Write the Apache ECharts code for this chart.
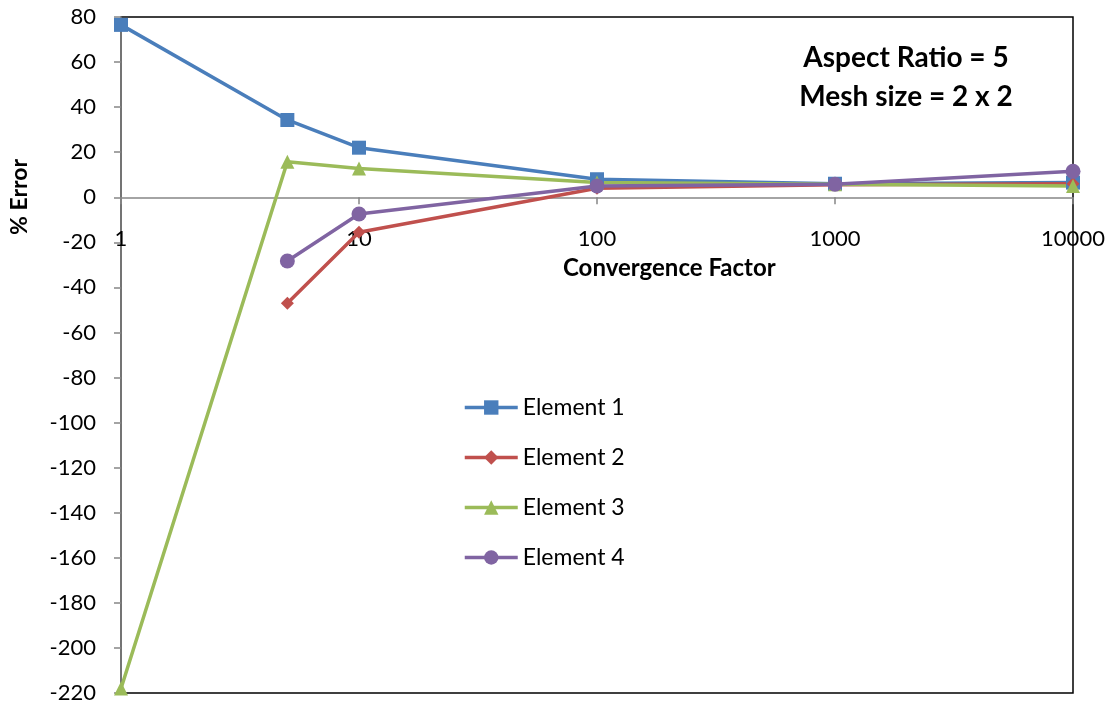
<!DOCTYPE html>
<html>
<head>
<meta charset="utf-8">
<script src="https://cdn.jsdelivr.net/npm/echarts@6/dist/echarts.min.js"></script>
<style>
  html, body { margin: 0; padding: 0; background: #fff; }
  #chart { width: 1113px; height: 703px; }
</style>
</head>
<body>
<div id="chart"></div>
<script>
// convergence factor values (x, log scale)
const factors = [1, 5, 10, 100, 1000, 10000];
// % error per element, null = no point
const element1 = [76.5, 34.3, 22, 8, 6, 6.5];
const element2 = [null, -47, -15.5, 4, 5.5, 6];
const element3 = [-218, 15.8, 12.8, 6.5, 5.8, 5];
const element4 = [null, -28.3, -7.4, 5, 5.8, 11.5];
const seriesNames = ["Element 1", "Element 2", "Element 3", "Element 4"];
const yTicks = { min: -220, max: 80, step: 20 };

const font = "Lato, 'Open Sans', sans-serif";

function pairs(vals) {
  const out = [];
  vals.forEach(function (v, i) {
    if (v !== null) out.push([factors[i], v]);
  });
  return out;
}

const colors = ["#4a7ebb", "#c0504d", "#9bbb59", "#8064a2"];
const symbols = ["rect", "diamond", "triangle", "circle"];
const sizes = [14, 13, 14, 15];
const allData = [element1, element2, element3, element4];

const chart = echarts.init(document.getElementById("chart"));
const option = {
  animation: false,
  textStyle: { fontFamily: font },
  grid: {
    left: 121,
    right: 40,
    top: 17,
    bottom: 10,
    show: true,
    borderColor: "#000",
    borderWidth: 1.5,
    containLabel: false,
    outerBoundsMode: "none"
  },
  legend: {
    orient: "vertical",
    left: 458,
    top: 391,
    itemWidth: 53,
    itemHeight: 18,
    itemGap: 27,
    data: seriesNames,
    lineStyle: { width: 3.5 },
    textStyle: { fontSize: 23, color: "#000", fontFamily: font }
  },
  xAxis: {
    type: "log",
    logBase: 10,
    min: 1,
    max: 10000,
    axisLine: { onZero: true, lineStyle: { color: "#868686", width: 1.5 } },
    axisTick: { show: true, length: 7, lineStyle: { color: "#868686", width: 1.5 } },
    minorTick: { show: false },
    splitLine: { show: false },
    axisLabel: {
      // labels sit just under the zero line in the source chart
      margin: -465,
      fontSize: 22,
      color: "#000",
      fontFamily: font,
      formatter: function (v) { return String(v); }
    }
  },
  yAxis: {
    type: "value",
    min: yTicks.min,
    max: yTicks.max,
    interval: yTicks.step,
    axisLine: { show: true, lineStyle: { color: "#868686", width: 1.5 } },
    axisTick: { show: true, length: 7, lineStyle: { color: "#868686", width: 1.5 } },
    splitLine: { show: false },
    axisLabel: { margin: 25, fontSize: 22, color: "#000", fontFamily: font }
  },
  graphic: [
    {
      type: "text",
      left: 563,
      top: 256,
      style: { text: "Convergence Factor", fontSize: 24, fontWeight: "bold", fill: "#000", fontFamily: font }
    },
    {
      type: "text",
      x: 20,
      y: 197,
      rotation: Math.PI / 2,
      style: { text: "% Error", fontSize: 23, fontWeight: "bold", fill: "#000", fontFamily: font, align: "center", verticalAlign: "middle" }
    },
    {
      type: "text",
      x: 906,
      y: 58,
      style: { text: "Aspect Ratio = 5", fontSize: 28, fontWeight: "bold", fill: "#000", fontFamily: font, align: "center", verticalAlign: "middle" }
    },
    {
      type: "text",
      x: 906,
      y: 97,
      style: { text: "Mesh size = 2 x 2", fontSize: 28, fontWeight: "bold", fill: "#000", fontFamily: font, align: "center", verticalAlign: "middle" }
    }
  ],
  series: seriesNames.map(function (name, i) {
    return {
      name: name,
      type: "line",
      data: pairs(allData[i]),
      symbol: symbols[i],
      symbolSize: sizes[i],
      showAllSymbol: true,
      clip: false,
      color: colors[i],
      lineStyle: { width: 3.5, color: colors[i] },
      itemStyle: { color: colors[i] }
    };
  })
};
chart.setOption(option);
</script>
</body>
</html>
